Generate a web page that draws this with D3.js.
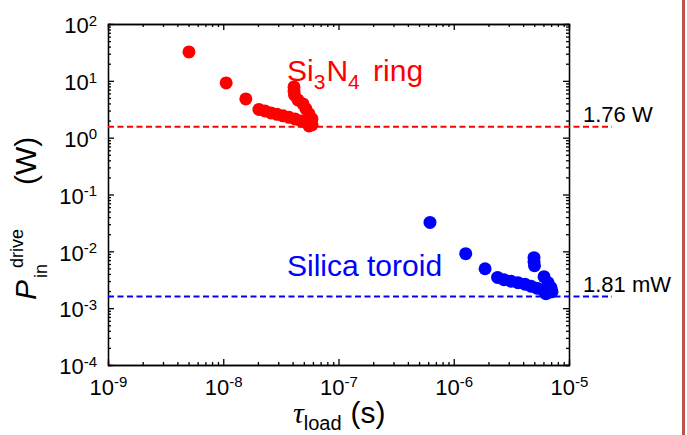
<!DOCTYPE html>
<html>
<head>
<meta charset="utf-8">
<script src="https://cdn.jsdelivr.net/npm/d3@7"></script>
<style>
  body { margin: 0; background: #fff; }
  svg { display: block; font-family: "Liberation Sans", Arial, sans-serif; }
  .axis path, .axis line { stroke: #000; stroke-width: 1.3; }
</style>
</head>
<body>
<div id="chart"></div>
<script>
// Si3N4 ring (red)
var redTau = [5.04e-9, 1.06e-8, 1.57e-8, 2.04e-8, 2.30e-8, 2.60e-8, 2.93e-8, 3.30e-8, 3.72e-8, 4.20e-8, 4.73e-8, 5.33e-8, 5.89e-8, 5.55e-8,
              4.11e-8, 4.11e-8, 4.15e-8, 4.45e-8, 4.92e-8, 5.22e-8, 5.55e-8, 5.89e-8];
var redP   = [32.2, 9.19, 4.81, 3.14, 2.96, 2.73, 2.57, 2.42, 2.28, 2.14, 1.97, 1.82, 1.68, 1.61,
              7.81, 6.64, 5.65, 4.61, 3.92, 3.21, 2.62, 2.14];
// Silica toroid (blue)
var blueTau = [6.22e-7, 1.27e-6, 1.87e-6, 2.40e-6, 2.73e-6, 3.14e-6, 3.61e-6, 4.15e-6, 4.68e-6, 5.28e-6, 5.95e-6, 6.71e-6, 6.31e-6,
               4.97e-6, 4.97e-6, 5.02e-6, 6.07e-6, 6.58e-6, 6.98e-6, 7.12e-6];
var blueP   = [0.0322, 9.08e-3, 4.94e-3, 3.48e-3, 3.17e-3, 2.98e-3, 2.81e-3, 2.64e-3, 2.44e-3, 2.25e-3, 2.07e-3, 1.91e-3, 1.80e-3,
               7.72e-3, 6.57e-3, 5.58e-3, 3.58e-3, 2.81e-3, 2.29e-3, 1.95e-3];

// threshold lines
var lineP = [1.55, 1.6e-3];
var lineLabels = ["1.76 W", "1.81 mW"];
var lineColors = ["#ff0000", "#0000ff"];

// tick values
var xMajor = [1e-9, 1e-8, 1e-7, 1e-6, 1e-5];
var yMajor = [1e-4, 1e-3, 1e-2, 1e-1, 1e0, 1e1, 1e2];

var W = 687, H = 435;
var margin = {top: 24, right: 118, bottom: 70, left: 108},
    width = W - margin.left - margin.right,
    height = H - margin.top - margin.bottom;

var svg = d3.select("#chart").append("svg")
    .attr("width", W)
    .attr("height", H);

var g = svg.append("g")
    .attr("transform", "translate(" + margin.left + "," + margin.top + ")");

var x = d3.scaleLog().domain([1e-9, 1e-5]).range([0, width]);
var y = d3.scaleLog().domain([1e-4, 1e2]).range([height, 0]);

function minors(majors) {
  var out = [];
  for (var i = 0; i < majors.length - 1; i++) {
    for (var k = 2; k <= 9; k++) out.push(majors[i] * k);
  }
  return out;
}
var xMinor = minors(xMajor), yMinor = minors(yMajor);

function expLabel(sel) {
  sel.each(function(d) {
    var t = d3.select(this);
    var e = Math.round(Math.log10(d));
    t.text(null);
    t.append("tspan").text("10");
    t.append("tspan").attr("dy", "-0.5em").style("font-size", "15px").text(e);
  });
}

// minor ticks, all four sides
g.append("g").attr("class", "axis").attr("transform", "translate(0," + height + ")")
  .call(d3.axisBottom(x).tickValues(xMinor).tickSize(-3).tickFormat(""));
g.append("g").attr("class", "axis")
  .call(d3.axisTop(x).tickValues(xMinor).tickSize(-3).tickFormat(""));
g.append("g").attr("class", "axis")
  .call(d3.axisLeft(y).tickValues(yMinor).tickSize(-3).tickFormat(""));
g.append("g").attr("class", "axis").attr("transform", "translate(" + width + ",0)")
  .call(d3.axisRight(y).tickValues(yMinor).tickSize(-3).tickFormat(""));

// major ticks
var xb = g.append("g").attr("class", "axis").attr("transform", "translate(0," + height + ")")
  .call(d3.axisBottom(x).tickValues(xMajor).tickSizeInner(-6).tickSizeOuter(0).tickPadding(14));
xb.selectAll(".tick text").attr("font-size", 22).attr("fill", "#000")
  .attr("font-family", null).call(expLabel);

var yl = g.append("g").attr("class", "axis")
  .call(d3.axisLeft(y).tickValues(yMajor).tickSizeInner(-6).tickSizeOuter(0).tickPadding(11));
yl.selectAll(".tick text").attr("font-size", 22).attr("fill", "#000")
  .attr("font-family", null).attr("dy", "0.4em").call(expLabel);

g.append("g").attr("class", "axis")
  .call(d3.axisTop(x).tickValues(xMajor).tickSizeInner(-6).tickSizeOuter(0).tickFormat(""));
g.append("g").attr("class", "axis").attr("transform", "translate(" + width + ",0)")
  .call(d3.axisRight(y).tickValues(yMajor).tickSizeInner(-6).tickSizeOuter(0).tickFormat(""));

// threshold dashed lines + labels
lineP.forEach(function(v, i) {
  g.append("line")
    .attr("x1", 0).attr("x2", width + 43)
    .attr("y1", y(v)).attr("y2", y(v))
    .attr("stroke", lineColors[i])
    .attr("stroke-width", 2)
    .attr("stroke-dasharray", "6,3.5");
  g.append("text")
    .attr("x", width + 14)
    .attr("y", y(v) - 5)
    .attr("font-size", 22)
    .text(lineLabels[i]);
});

// points
var red = redTau.map(function(t, i) { return {t: t, p: redP[i]}; });
var blue = blueTau.map(function(t, i) { return {t: t, p: blueP[i]}; });

g.selectAll(".red").data(red).enter().append("circle")
  .attr("class", "red")
  .attr("cx", function(d) { return x(d.t); })
  .attr("cy", function(d) { return y(d.p); })
  .attr("r", 6.5)
  .attr("fill", "#ff0000");

g.selectAll(".blue").data(blue).enter().append("circle")
  .attr("class", "blue")
  .attr("cx", function(d) { return x(d.t); })
  .attr("cy", function(d) { return y(d.p); })
  .attr("r", 6.5)
  .attr("fill", "#0000ff");

// annotations
var t1 = svg.append("text").attr("x", 287).attr("y", 81).attr("font-size", 30).attr("fill", "#ff0000");
t1.append("tspan").text("Si");
t1.append("tspan").attr("dy", 8).attr("font-size", 21).text("3");
t1.append("tspan").attr("dy", -8).attr("dx", 1).text("N");
t1.append("tspan").attr("dy", 8).attr("font-size", 21).text("4");
t1.append("tspan").attr("dy", -8).attr("dx", 5).text(" ring");

svg.append("text").attr("x", 287).attr("y", 276).attr("font-size", 30).attr("fill", "#0000ff")
  .text("Silica toroid");

// x title
var xt = svg.append("text").attr("x", 293).attr("y", 423).attr("font-size", 30);
xt.append("tspan").attr("font-style", "italic").attr("font-family", "Liberation Serif, serif").text("τ");
xt.append("tspan").attr("dy", 7).attr("font-size", 20).text("load");
xt.append("tspan").attr("dy", -7).attr("dx", 9).text("(s)");

// y title
var yt = svg.append("text").attr("transform", "translate(36,300) rotate(-90)").attr("font-size", 30);
yt.append("tspan").attr("font-style", "italic").text("P");
yt.append("tspan").attr("x", 32).attr("dy", -13).attr("font-size", 18).text("drive");
yt.append("tspan").attr("x", 22).attr("dy", 24).attr("font-size", 18).text("in");
yt.append("tspan").attr("x", 115).attr("dy", -11).text("(W)");

// vertical red rule at right edge
svg.append("line")
  .attr("x1", 683.5).attr("x2", 683.5)
  .attr("y1", 0).attr("y2", H)
  .attr("stroke", "#c0504d")
  .attr("stroke-width", 3);
</script>
</body>
</html>
